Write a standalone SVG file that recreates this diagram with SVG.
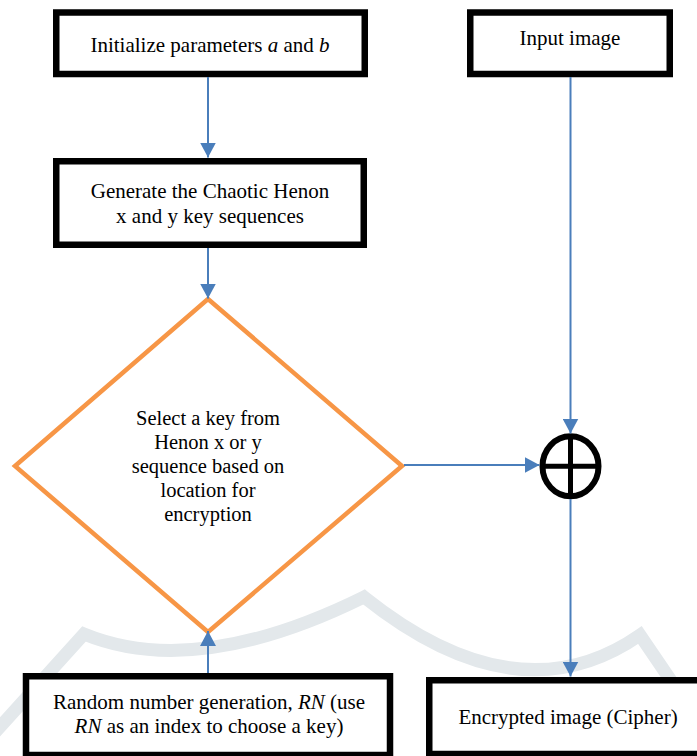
<svg xmlns="http://www.w3.org/2000/svg" width="697" height="756" viewBox="0 0 697 756">
<style>
.box{fill:#fff;stroke:#000;stroke-width:6.5}
.t{font-family:"Liberation Serif","Times New Roman",serif;font-size:21px;fill:#000;text-anchor:middle}
.d{font-size:20.5px}
.i{font-style:italic}
.c{stroke:#4A7EBB;stroke-width:2;fill:none;marker-end:url(#ah)}
.wm{fill:none;stroke:#e3e8eb;stroke-width:13;stroke-linejoin:miter}
</style>
<defs>
<marker id="ah" markerUnits="userSpaceOnUse" markerWidth="15" markerHeight="16" viewBox="0 0 15 16" refX="15" refY="8" orient="auto">
<path d="M0,0 L15,8 L0,16 Z" fill="#4A7EBB"/>
</marker>
</defs>
<rect width="697" height="756" fill="#fff"/>
<path class="wm" d="M-30,760 L84,634 Q196,680 364,597 Q518,720 640,635 L725,760"/>
<g id="init">
<rect class="box" x="56.25" y="12.5" width="308.5" height="61.5"/>
<text class="t" x="210" y="52">Initialize parameters <tspan class="i">a</tspan> and <tspan class="i">b</tspan></text>
</g>
<g id="input">
<rect class="box" x="470.25" y="12.5" width="199.5" height="61.5"/>
<text class="t" x="570" y="45">Input image</text>
</g>
<g id="generate">
<rect class="box" x="56.25" y="161.25" width="307.5" height="83.5"/>
<text class="t" x="210" y="198">Generate the Chaotic Henon</text>
<text class="t" x="210" y="223">x and y key sequences</text>
</g>
<g id="select">
<polygon points="208,299 402,466 208,632 15,466" fill="#fff" stroke="#F79646" stroke-width="4.5"/>
<text class="t d" x="208" y="425">Select a key from</text>
<text class="t d" x="208" y="449">Henon x or y</text>
<text class="t d" x="208" y="473">sequence based on</text>
<text class="t d" x="208" y="497">location for</text>
<text class="t d" x="208" y="521">encryption</text>
</g>
<g id="xor">
<ellipse cx="570.5" cy="466.3" rx="28" ry="30" fill="#fff" stroke="#000" stroke-width="6"/>
<line x1="570.5" y1="436.3" x2="570.5" y2="496.3" stroke="#000" stroke-width="5"/>
<line x1="542.5" y1="466.3" x2="598.5" y2="466.3" stroke="#000" stroke-width="5"/>
</g>
<g id="random">
<rect class="box" x="26" y="676.25" width="364" height="78.75"/>
<text class="t" x="209" y="709">Random number generation, <tspan class="i">RN</tspan> (use</text>
<text class="t" x="209" y="733"><tspan class="i">RN</tspan> as an index to choose a key)</text>
</g>
<g id="cipher">
<rect class="box" x="429.25" y="680.25" width="275" height="73.75"/>
<text class="t" x="568" y="724">Encrypted image (Cipher)</text>
</g>
<g id="connectors">
<line class="c" x1="208" y1="77" x2="208" y2="157.5"/>
<line class="c" x1="208" y1="248" x2="208" y2="298.5"/>
<line class="c" x1="404" y1="465" x2="539.5" y2="465"/>
<line class="c" x1="570.5" y1="77" x2="570.5" y2="433.5"/>
<line class="c" x1="570.5" y1="499" x2="570.5" y2="676.5"/>
<line class="c" x1="208" y1="673" x2="208" y2="631"/>
</g>
</svg>
